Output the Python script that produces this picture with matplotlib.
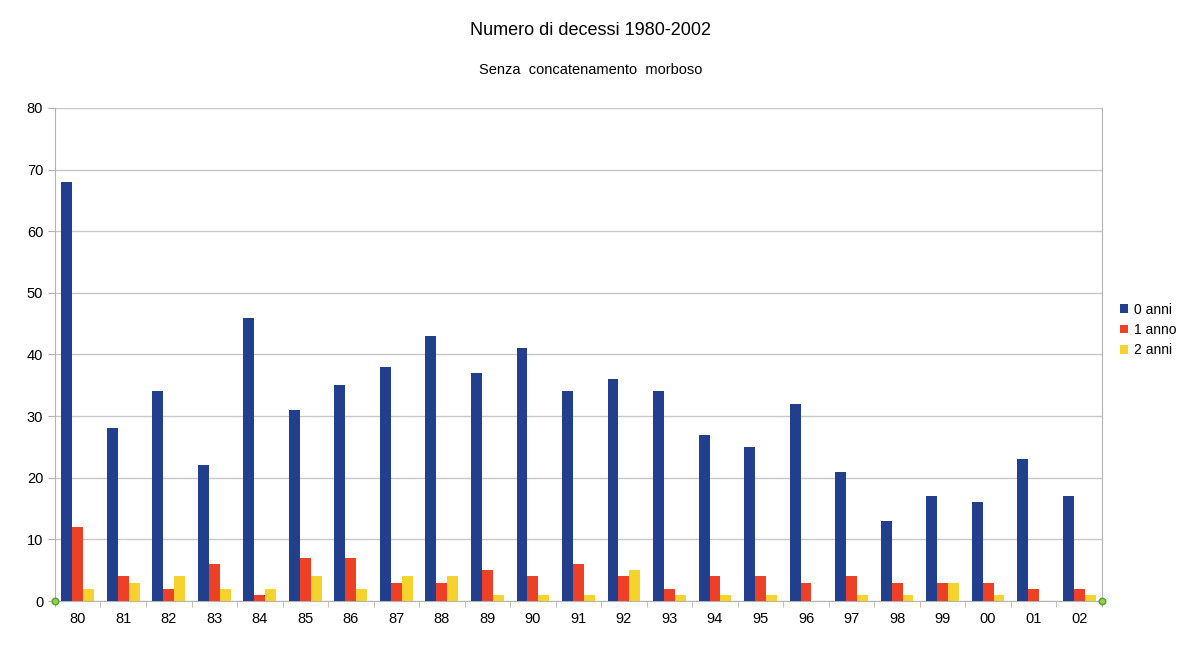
import numpy as np
import matplotlib.pyplot as plt

# Data
years = ['80', '81', '82', '83', '84', '85', '86', '87', '88', '89', '90', '91',
         '92', '93', '94', '95', '96', '97', '98', '99', '00', '01', '02']
anni_0 = [68, 28, 34, 22, 46, 31, 35, 38, 43, 37, 41, 34, 36, 34, 27, 25, 32, 21, 13, 17, 16, 23, 17]
anno_1 = [12, 4, 2, 6, 1, 7, 7, 3, 3, 5, 4, 6, 4, 2, 4, 4, 3, 4, 3, 3, 3, 2, 2]
anni_2 = [2, 3, 4, 2, 2, 4, 2, 4, 4, 1, 1, 1, 5, 1, 1, 1, 0, 1, 1, 3, 1, 0, 1]

plt.rcParams['font.family'] = ['Liberation Sans', 'DejaVu Sans']

fig = plt.figure(figsize=(11.77, 6.55), dpi=100)
ax = fig.add_axes([0.0467, 0.0824, 0.8895, 0.7528])

x = np.arange(len(years))
w = 0.24
ax.bar(x - w, anni_0, w, color='#213f8d', label='0 anni', zorder=3)
ax.bar(x, anno_1, w, color='#ec4127', label='1 anno', zorder=3)
ax.bar(x + w, anni_2, w, color='#f6d22e', label='2 anni', zorder=3)

ax.set_xlim(-0.5, len(years) - 0.5)
ax.set_ylim(0, 80)
ax.set_yticks(range(0, 81, 10))
ax.set_xticks(x)
ax.set_xticklabels(years)
ax.set_xticks(np.arange(-0.5, len(years), 1), minor=True)
ax.tick_params(axis='x', which='major', length=0, labelsize=10.5, pad=8)
ax.tick_params(axis='x', which='minor', length=4, color='#b3b3b3')
ax.tick_params(axis='y', length=5, color='#b3b3b3', labelsize=10.5)
ax.yaxis.grid(True, color='#c8c8c8', linewidth=1, zorder=0)

for side in ['left', 'right', 'bottom']:
    ax.spines[side].set_color('#b3b3b3')
ax.spines['top'].set_visible(False)

# selection handles at the ends of the x axis
ax.scatter([-0.5, len(years) - 0.5], [0, 0], s=22, color='#8fd14f',
           edgecolor='#5a9a2a', zorder=5, clip_on=False)

fig.text(0.502, 0.953, 'Numero di decessi 1980-2002', ha='center', va='center', fontsize=13)
fig.text(0.502, 0.893, 'Senza  concatenamento  morboso', ha='center', va='center', fontsize=10.5)

ax.legend(loc='center left', bbox_to_anchor=(1.008, 0.55), frameon=False,
          fontsize=10, handlelength=0.6, handleheight=0.6, handletextpad=0.4,
          labelspacing=0.45, borderpad=0.2)

fig.savefig('out.png', dpi=100)
